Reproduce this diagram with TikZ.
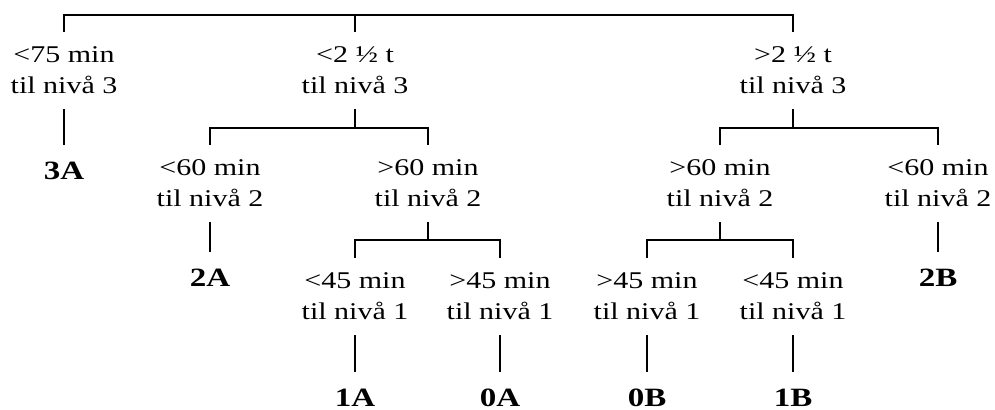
\documentclass[tikz,border=0pt]{standalone}
\usepackage{fontspec}
\setmainfont{Liberation Serif}[FakeStretch=1.25]
\usepackage{tikz}

\begin{document}
\begin{tikzpicture}[x=0.5pt,y=-0.5pt,line width=0.9pt,
  crit/.style={align=center,anchor=north,inner xsep=2pt,inner ysep=7.5pt,outer sep=0pt,
    execute at begin node={\rule{0pt}{8.5pt}},font=\fontsize{12}{15.5}\selectfont},
  leaf/.style={anchor=base,inner xsep=2pt,inner ysep=7.5pt,outer sep=0pt,
    text height=10pt,font=\fontsize{13.2}{15}\selectfont\bfseries}]
\useasboundingbox (0,0) rectangle (995,410);

% first split
\node [crit] (n75) at (64,32) {<75 min\\til nivå 3};
\node [crit] (lt25) at (355,32) {<2 ½ t\\til nivå 3};
\node [crit] (gt25) at (793,32) {>2 ½ t\\til nivå 3};

% second split
\node [leaf] (l3A) at (64,180) {3A};
\node [crit] (lt60a) at (210,145) {<60 min\\til nivå 2};
\node [crit] (gt60a) at (428,145) {>60 min\\til nivå 2};
\node [crit] (gt60b) at (720,145) {>60 min\\til nivå 2};
\node [crit] (lt60b) at (938,145) {<60 min\\til nivå 2};

% third split
\node [leaf] (l2A) at (210,287) {2A};
\node [leaf] (l2B) at (938,287) {2B};
\node [crit] (lt45a) at (355,258) {<45 min\\til nivå 1};
\node [crit] (gt45a) at (500,258) {>45 min\\til nivå 1};
\node [crit] (gt45b) at (647,258) {>45 min\\til nivå 1};
\node [crit] (lt45b) at (793,258) {<45 min\\til nivå 1};

\node [leaf] (l1A) at (355,407) {1A};
\node [leaf] (l0A) at (500,407) {0A};
\node [leaf] (l0B) at (647,407) {0B};
\node [leaf] (l1B) at (793,407) {1B};

% junctions
\coordinate (top) at (355,15);
\coordinate (j1) at (355,128);
\coordinate (j2) at (793,128);
\coordinate (j3) at (428,240);
\coordinate (j4) at (720,240);

\draw (n75.north) |- (top) -| (gt25.north);
\draw (lt25.north) -- (top);
\draw (n75.south) -- (l3A.north);

\draw (lt25.south) -- (j1);
\draw (lt60a.north) |- (j1) -| (gt60a.north);
\draw (gt25.south) -- (j2);
\draw (gt60b.north) |- (j2) -| (lt60b.north);

\draw (lt60a.south) -- (l2A.north);
\draw (lt60b.south) -- (l2B.north);
\draw (gt60a.south) -- (j3);
\draw (lt45a.north) |- (j3) -| (gt45a.north);
\draw (gt60b.south) -- (j4);
\draw (gt45b.north) |- (j4) -| (lt45b.north);

\draw (lt45a.south) -- (l1A.north);
\draw (gt45a.south) -- (l0A.north);
\draw (gt45b.south) -- (l0B.north);
\draw (lt45b.south) -- (l1B.north);
\end{tikzpicture}
\end{document}
